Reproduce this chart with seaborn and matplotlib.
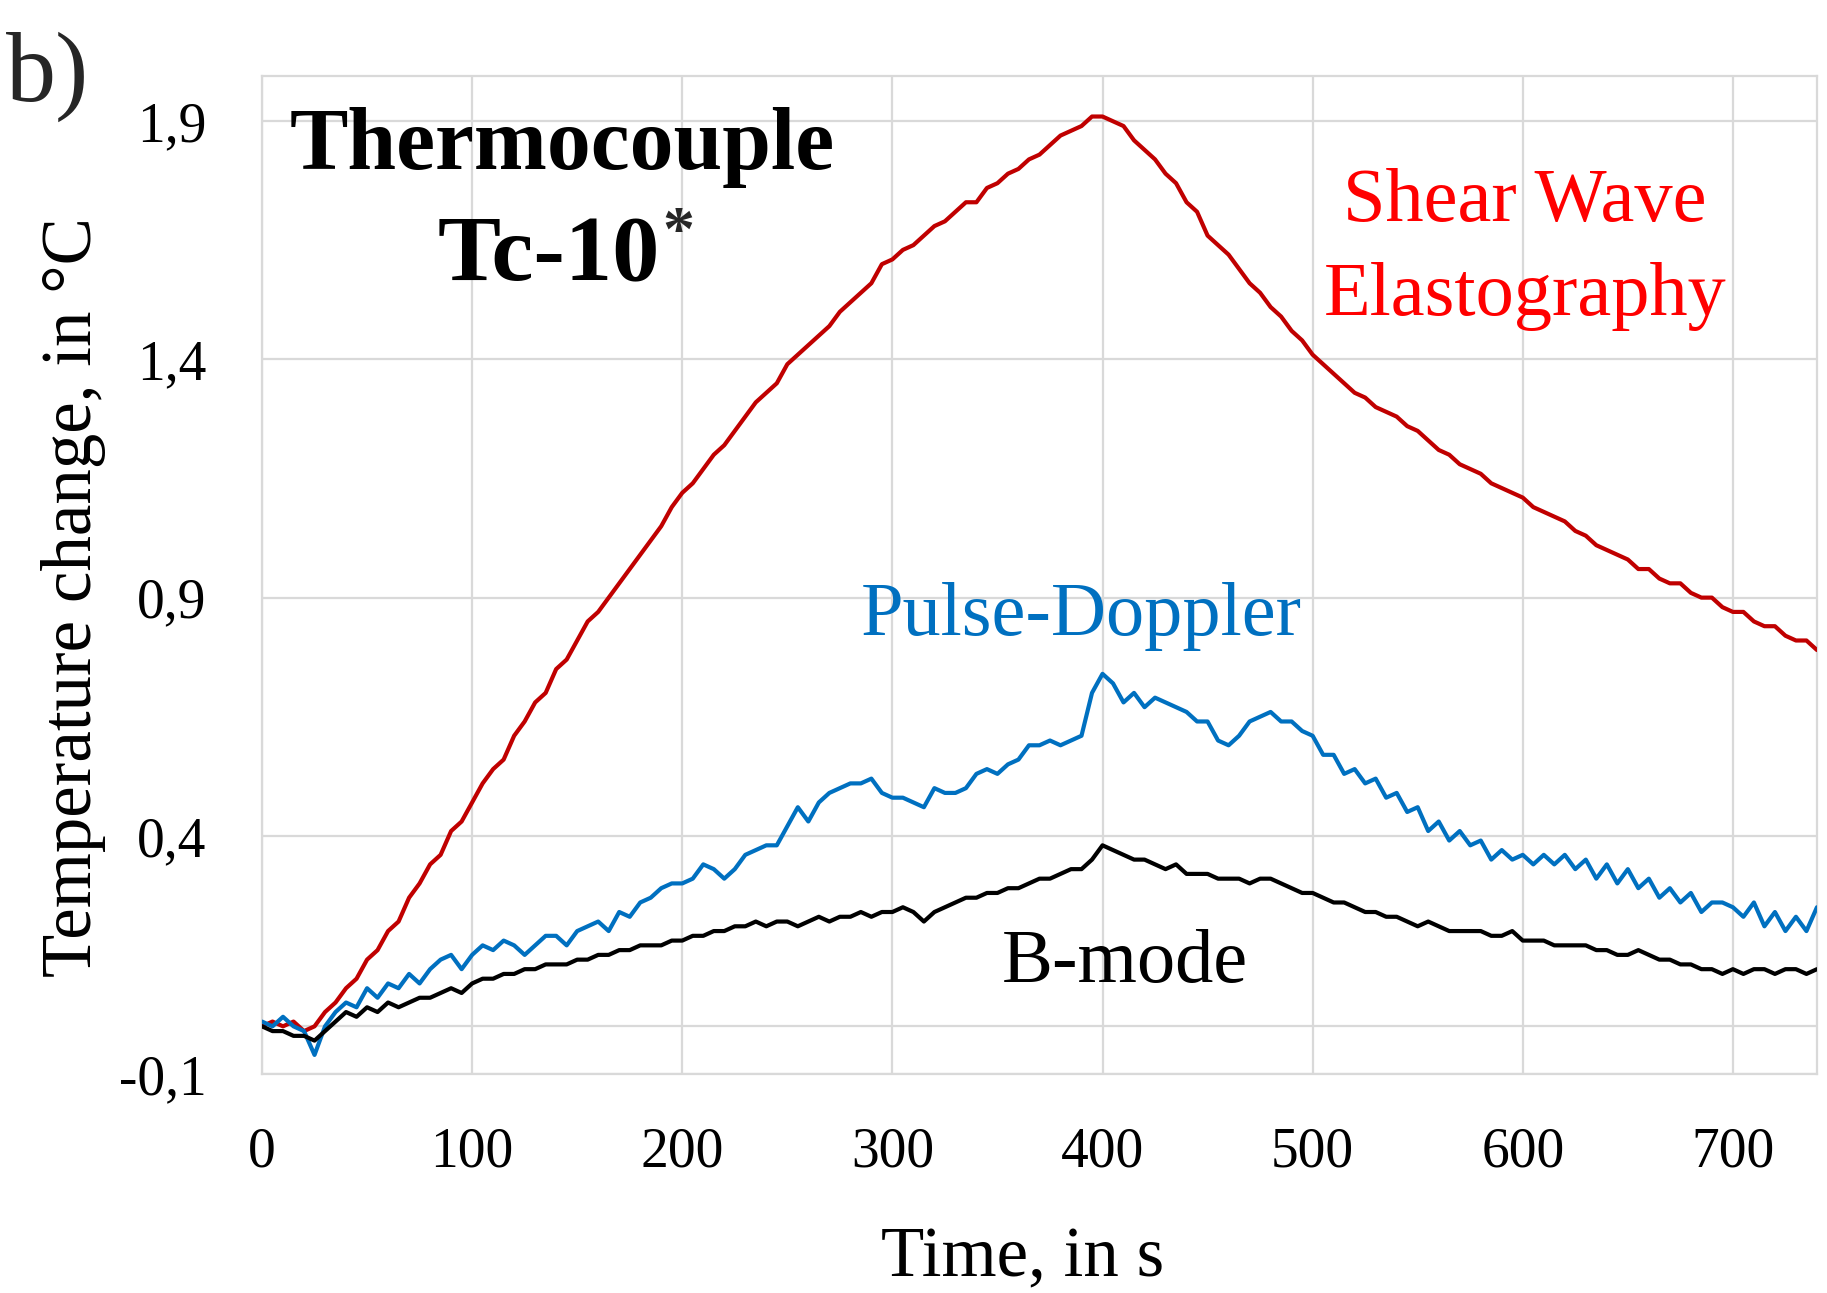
import numpy as np
import pandas as pd
import seaborn as sns
import matplotlib.pyplot as plt

# sample times, s (one reading every 5 s)
time_s = list(range(0, 745, 5))

# temperature change, in degC
shear_wave = [
    0.00, 0.01, 0.00, 0.01, -0.01, 0.00, 0.03, 0.05, 0.08, 0.10,
    0.14, 0.16, 0.20, 0.22, 0.27, 0.30, 0.34, 0.36, 0.41, 0.43,
    0.47, 0.51, 0.54, 0.56, 0.61, 0.64, 0.68, 0.70, 0.75, 0.77,
    0.81, 0.85, 0.87, 0.90, 0.93, 0.96, 0.99, 1.02, 1.05, 1.09,
    1.12, 1.14, 1.17, 1.20, 1.22, 1.25, 1.28, 1.31, 1.33, 1.35,
    1.39, 1.41, 1.43, 1.45, 1.47, 1.50, 1.52, 1.54, 1.56, 1.60,
    1.61, 1.63, 1.64, 1.66, 1.68, 1.69, 1.71, 1.73, 1.73, 1.76,
    1.77, 1.79, 1.80, 1.82, 1.83, 1.85, 1.87, 1.88, 1.89, 1.91,
    1.91, 1.90, 1.89, 1.86, 1.84, 1.82, 1.79, 1.77, 1.73, 1.71,
    1.66, 1.64, 1.62, 1.59, 1.56, 1.54, 1.51, 1.49, 1.46, 1.44,
    1.41, 1.39, 1.37, 1.35, 1.33, 1.32, 1.30, 1.29, 1.28, 1.26,
    1.25, 1.23, 1.21, 1.20, 1.18, 1.17, 1.16, 1.14, 1.13, 1.12,
    1.11, 1.09, 1.08, 1.07, 1.06, 1.04, 1.03, 1.01, 1.00, 0.99,
    0.98, 0.96, 0.96, 0.94, 0.93, 0.93, 0.91, 0.90, 0.90, 0.88,
    0.87, 0.87, 0.85, 0.84, 0.84, 0.82, 0.81, 0.81, 0.79,
]
pulse_doppler = [
    0.01, 0.00, 0.02, 0.00, -0.01, -0.06, 0.00, 0.03, 0.05, 0.04,
    0.08, 0.06, 0.09, 0.08, 0.11, 0.09, 0.12, 0.14, 0.15, 0.12,
    0.15, 0.17, 0.16, 0.18, 0.17, 0.15, 0.17, 0.19, 0.19, 0.17,
    0.20, 0.21, 0.22, 0.20, 0.24, 0.23, 0.26, 0.27, 0.29, 0.30,
    0.30, 0.31, 0.34, 0.33, 0.31, 0.33, 0.36, 0.37, 0.38, 0.38,
    0.42, 0.46, 0.43, 0.47, 0.49, 0.50, 0.51, 0.51, 0.52, 0.49,
    0.48, 0.48, 0.47, 0.46, 0.50, 0.49, 0.49, 0.50, 0.53, 0.54,
    0.53, 0.55, 0.56, 0.59, 0.59, 0.60, 0.59, 0.60, 0.61, 0.70,
    0.74, 0.72, 0.68, 0.70, 0.67, 0.69, 0.68, 0.67, 0.66, 0.64,
    0.64, 0.60, 0.59, 0.61, 0.64, 0.65, 0.66, 0.64, 0.64, 0.62,
    0.61, 0.57, 0.57, 0.53, 0.54, 0.51, 0.52, 0.48, 0.49, 0.45,
    0.46, 0.41, 0.43, 0.39, 0.41, 0.38, 0.39, 0.35, 0.37, 0.35,
    0.36, 0.34, 0.36, 0.34, 0.36, 0.33, 0.35, 0.31, 0.34, 0.30,
    0.33, 0.29, 0.31, 0.27, 0.29, 0.26, 0.28, 0.24, 0.26, 0.26,
    0.25, 0.23, 0.26, 0.21, 0.24, 0.20, 0.23, 0.20, 0.25,
]
b_mode = [
    0.00, -0.01, -0.01, -0.02, -0.02, -0.03, -0.01, 0.01, 0.03, 0.02,
    0.04, 0.03, 0.05, 0.04, 0.05, 0.06, 0.06, 0.07, 0.08, 0.07,
    0.09, 0.10, 0.10, 0.11, 0.11, 0.12, 0.12, 0.13, 0.13, 0.13,
    0.14, 0.14, 0.15, 0.15, 0.16, 0.16, 0.17, 0.17, 0.17, 0.18,
    0.18, 0.19, 0.19, 0.20, 0.20, 0.21, 0.21, 0.22, 0.21, 0.22,
    0.22, 0.21, 0.22, 0.23, 0.22, 0.23, 0.23, 0.24, 0.23, 0.24,
    0.24, 0.25, 0.24, 0.22, 0.24, 0.25, 0.26, 0.27, 0.27, 0.28,
    0.28, 0.29, 0.29, 0.30, 0.31, 0.31, 0.32, 0.33, 0.33, 0.35,
    0.38, 0.37, 0.36, 0.35, 0.35, 0.34, 0.33, 0.34, 0.32, 0.32,
    0.32, 0.31, 0.31, 0.31, 0.30, 0.31, 0.31, 0.30, 0.29, 0.28,
    0.28, 0.27, 0.26, 0.26, 0.25, 0.24, 0.24, 0.23, 0.23, 0.22,
    0.21, 0.22, 0.21, 0.20, 0.20, 0.20, 0.20, 0.19, 0.19, 0.20,
    0.18, 0.18, 0.18, 0.17, 0.17, 0.17, 0.17, 0.16, 0.16, 0.15,
    0.15, 0.16, 0.15, 0.14, 0.14, 0.13, 0.13, 0.12, 0.12, 0.11,
    0.12, 0.11, 0.12, 0.12, 0.11, 0.12, 0.12, 0.11, 0.12,
]

x_ticks = [0, 100, 200, 300, 400, 500, 600, 700]
y_ticks = [-0.1, 0.4, 0.9, 1.4, 1.9]
y_tick_labels = ['-0,1', '0,4', '0,9', '1,4', '1,9']

RED = '#C00000'
BLUE = '#0070C0'
GRID = '#D9D9D9'

sns.set_theme(style='white')
plt.rcParams['font.family'] = ['Liberation Serif', 'DejaVu Serif']

fig = plt.figure(figsize=(18.27, 12.93), dpi=100)
ax = fig.add_axes([0.1434, 0.1694, 0.8511, 0.7718])

sns.lineplot(x=time_s, y=shear_wave, color=RED, lw=3.0, ax=ax, zorder=3)
sns.lineplot(x=time_s, y=pulse_doppler, color=BLUE, lw=3.0, ax=ax, zorder=4)
sns.lineplot(x=time_s, y=b_mode, color='black', lw=3.0, ax=ax, zorder=5)

ax.set_xlim(0, 740)
ax.set_ylim(-0.1, 1.995)
ax.set_xticks(x_ticks)
ax.set_xticklabels([str(v) for v in x_ticks])
ax.set_yticks(y_ticks)
ax.set_yticklabels(y_tick_labels)
ax.tick_params(axis='both', length=0, labelsize=40, colors='black')
ax.tick_params(axis='x', pad=38)
ax.tick_params(axis='y', pad=40)

ax.set_axisbelow(True)
ax.grid(True, color=GRID, lw=1.6)
ax.axhline(0, color=GRID, lw=1.6, zorder=1)
for sp in ax.spines.values():
    sp.set_color(GRID)
    sp.set_linewidth(1.6)

ax.set_xlabel('Time, in s', fontsize=51, color='black')
ax.set_ylabel('Temperature change, in °C', fontsize=51, color='black')
ax.xaxis.set_label_coords(0.489, -0.153)
ax.yaxis.set_label_coords(-0.100, 0.478)

# annotations
ax.text(142.9, 1.799, 'Thermocouple', fontsize=63, fontweight='bold',
        ha='center', va='baseline', color='black')
tc = ax.text(136.5, 1.566, 'Tc-10', fontsize=68, fontweight='bold',
             ha='center', va='baseline', color='black')
ax.text(601, 1.690, 'Shear Wave', fontsize=55, color='#FF0000',
        ha='center', va='baseline')
ax.text(601, 1.493, 'Elastography', fontsize=55, color='#FF0000',
        ha='center', va='baseline')
ax.text(390, 0.821, 'Pulse-Doppler', fontsize=55, color=BLUE,
        ha='center', va='baseline')
ax.text(410.5, 0.093, 'B-mode', fontsize=55, color='black',
        ha='center', va='baseline')

fig.canvas.draw()
bb = tc.get_window_extent()
ax.annotate('*', xy=(bb.x1, bb.y0), xycoords='figure pixels',
            xytext=(2, 36), textcoords='offset points',
            fontsize=46, fontweight='bold', ha='left', va='baseline')

fig.text(0.0033, 0.922, 'b)', fontsize=72, va='baseline', ha='left')

fig.savefig('out.png', dpi=100)
